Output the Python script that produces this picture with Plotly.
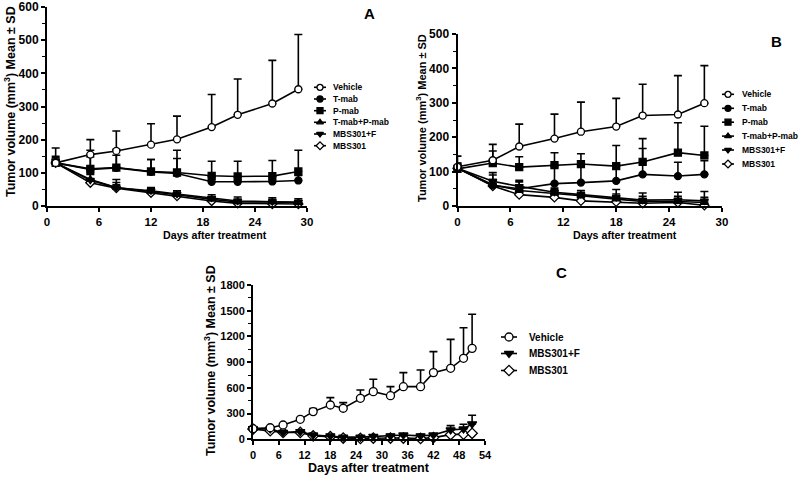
import plotly.graph_objects as go

# ---------------- data ----------------
A_days = [1, 5, 8, 12, 15, 19, 22, 26, 29]
A_vehicle = [130, 155, 166, 185, 201, 238, 275, 309, 352]
A_vehicle_sd = [15, 45, 60, 63, 70, 98, 108, 130, 165]
A_tmab = [130, 110, 115, 103, 98, 73, 73, 74, 77]
A_tmab_sd = [20, 38, 38, 37, 45, 15, 15, 15, 15]
A_pmab = [130, 112, 116, 104, 101, 91, 89, 90, 104]
A_pmab_sd = [45, 56, 55, 36, 67, 44, 46, 47, 64]
A_tp = [130, 80, 56, 44, 34, 20, 12, 12, 10]
A_tp_sd = [10, 15, 15, 10, 8, 8, 8, 8, 6]
A_mf = [130, 78, 55, 46, 36, 24, 15, 13, 12]
A_mf_sd = [10, 20, 25, 10, 10, 10, 12, 12, 10]
A_m = [130, 70, 54, 40, 30, 15, 8, 6, 6]
A_m_sd = [5, 10, 10, 8, 8, 6, 5, 5, 4]

B_days = [0, 4, 7, 11, 14, 18, 21, 25, 28]
B_vehicle = [114, 133, 173, 196, 216, 231, 263, 266, 299]
B_vehicle_sd = [10, 46, 65, 71, 86, 82, 91, 113, 109]
B_tmab = [110, 60, 50, 65, 68, 73, 92, 87, 92]
B_tmab_sd = [10, 30, 20, 50, 50, 45, 75, 40, 40]
B_pmab = [108, 125, 113, 119, 122, 116, 128, 155, 147]
B_pmab_sd = [37, 35, 30, 36, 30, 60, 68, 87, 85]
B_tp = [110, 62, 45, 37, 30, 20, 13, 13, 10]
B_tp_sd = [10, 15, 12, 10, 10, 15, 15, 15, 15]
B_mf = [110, 72, 57, 40, 33, 25, 17, 18, 15]
B_mf_sd = [15, 25, 18, 12, 12, 23, 21, 22, 27]
B_m = [110, 58, 33, 25, 15, 12, 8, 10, 2]
B_m_sd = [5, 8, 8, 6, 5, 6, 6, 6, 4]

C_days = [0, 4, 7, 11, 14, 18, 21, 25, 28, 32, 35, 39, 42, 46, 49, 51]
C_vehicle = [124, 135, 167, 233, 323, 400, 362, 478, 556, 509, 614, 614, 778, 828, 945, 1061]
C_vehicle_sd = [6, 15, 13, 17, 37, 86, 66, 97, 144, 105, 164, 195, 245, 338, 357, 397]
C_mf = [125, 120, 80, 90, 50, 40, 25, 25, 35, 40, 50, 40, 50, 110, 120, 180]
C_mf_sd = [10, 15, 10, 10, 10, 10, 10, 10, 15, 15, 15, 15, 15, 50, 55, 100]
C_m = [120, 100, 80, 80, 40, 30, 15, 10, 15, 15, 15, 10, 20, 55, 60, 70]
C_m_sd = [5, 5, 5, 5, 5, 5, 5, 5, 5, 5, 5, 5, 5, 10, 10, 10]

A_x_ticks = [0, 6, 12, 18, 24, 30]
A_y_ticks = [0, 100, 200, 300, 400, 500, 600]
B_y_ticks = [0, 100, 200, 300, 400, 500]
C_x_ticks = [0, 6, 12, 18, 24, 30, 36, 42, 48, 54]
C_y_ticks = [0, 300, 600, 900, 1200, 1500, 1800]

panelA = [("Vehicle", A_vehicle, A_vehicle_sd), ("T-mab", A_tmab, A_tmab_sd),
          ("P-mab", A_pmab, A_pmab_sd), ("T-mab+P-mab", A_tp, A_tp_sd),
          ("MBS301+F", A_mf, A_mf_sd), ("MBS301", A_m, A_m_sd)]
panelB = [("Vehicle", B_vehicle, B_vehicle_sd), ("T-mab", B_tmab, B_tmab_sd),
          ("P-mab", B_pmab, B_pmab_sd), ("T-mab+P-mab", B_tp, B_tp_sd),
          ("MBS301+F", B_mf, B_mf_sd), ("MBS301", B_m, B_m_sd)]
panelC = [("Vehicle", C_vehicle, C_vehicle_sd), ("MBS301+F", C_mf, C_mf_sd),
          ("MBS301", C_m, C_m_sd)]

# ---------------- style ----------------
FONT = "Liberation Sans, Arial, sans-serif"
W, H = 800, 477
STYLE = {
    "Vehicle": ("circle", "white"),
    "T-mab": ("circle", "black"),
    "P-mab": ("square", "black"),
    "T-mab+P-mab": ("triangle-up", "black"),
    "MBS301+F": ("triangle-down", "black"),
    "MBS301": ("diamond", "white"),
}


def px(x):
    return x / W


def py(y):
    return 1 - y / H


fig = go.Figure()


def add_panel(series, days, xa, ya, msize):
    for name, vals, sd in reversed(series):
        sym, fill = STYLE[name]
        fig.add_trace(go.Scatter(
            x=days, y=vals, mode="lines+markers", name=name, showlegend=False,
            xaxis=xa, yaxis=ya, cliponaxis=False,
            line=dict(color="black", width=1.6),
            marker=dict(symbol=sym, size=msize, color=fill,
                        line=dict(color="black", width=1.3)),
            error_y=dict(type="data", symmetric=False, array=sd,
                         arrayminus=[0] * len(sd), color="black",
                         thickness=1.6, width=4),
        ))


add_panel(panelA, A_days, "x", "y", 7)
add_panel(panelB, B_days, "x2", "y2", 7)
add_panel(panelC, C_days, "x3", "y3", 8)

# ---------------- custom legends on an overlay pixel axis ----------------
annotations = []


def add_legend(series, rows, x0, xm, x1, xt, msize, fsize):
    for (name, _, _), r in zip(series, rows):
        sym, fill = STYLE[name]
        fig.add_trace(go.Scatter(x=[x0, x1], y=[r, r], mode="lines",
                                 xaxis="x4", yaxis="y4", showlegend=False,
                                 line=dict(color="black", width=1.6), hoverinfo="skip"))
        fig.add_trace(go.Scatter(x=[xm], y=[r], mode="markers",
                                 xaxis="x4", yaxis="y4", showlegend=False,
                                 marker=dict(symbol=sym, size=msize, color=fill,
                                             line=dict(color="black", width=1.3)),
                                 hoverinfo="skip"))
        annotations.append(dict(text=name, x=px(xt), y=py(r), xref="paper", yref="paper",
                                xanchor="left", yanchor="middle", showarrow=False,
                                font=dict(family=FONT, size=fsize, color="black", weight="bold")))


add_legend(panelA, [87.3, 99, 110.7, 122.3, 134, 145.7], 314, 320, 326, 331, 6, 8.5)
add_legend(panelB, [94.3, 108.3, 122.2, 136.1, 150, 164], 722, 728, 734, 740, 6, 8.5)
add_legend(panelC, [337, 353.5, 370.5], 501, 509, 517, 527, 8, 10)


def axis_common(tickvals, rng, domain, anchor, fsize, minor=None):
    d = dict(range=rng, domain=domain, anchor=anchor, tickvals=tickvals,
             showgrid=False, zeroline=False, showline=True, linecolor="black",
             linewidth=2, ticks="outside", ticklen=4, tickwidth=1.8, tickcolor="black",
             tickfont=dict(family=FONT, size=fsize, color="black", weight="bold"),
             automargin=False, fixedrange=True)
    if minor is not None:
        d["minor"] = dict(dtick=minor, ticks="outside", ticklen=3, tickwidth=1.2,
                          tickcolor="black", showgrid=False)
    return d


layout = dict(
    width=W, height=H, paper_bgcolor="white", plot_bgcolor="rgba(0,0,0,0)",
    margin=dict(l=0, r=0, t=0, b=0), showlegend=False,
    font=dict(family=FONT, color="black"),
    xaxis=axis_common(A_x_ticks, [0, 30], [px(47), px(307)], "y", 11.5),
    yaxis=axis_common(A_y_ticks, [0, 600], [py(206), py(7)], "x", 12, minor=50),
    xaxis2=axis_common(A_x_ticks, [0, 30], [px(457.5), px(722)], "y2", 11.5),
    yaxis2=axis_common(B_y_ticks, [0, 500], [py(206), py(34)], "x2", 12, minor=50),
    xaxis3=axis_common(C_x_ticks, [0, 54], [px(253), px(485)], "y3", 11),
    yaxis3=axis_common(C_y_ticks, [0, 1800], [py(439.3), py(285)], "x3", 11, minor=150),
    xaxis4=dict(range=[0, W], domain=[0, 1], anchor="y4", visible=False, fixedrange=True),
    yaxis4=dict(range=[H, 0], domain=[0, 1], anchor="x4", visible=False, fixedrange=True),
)


def text_ann(text, x, y, size, angle=0):
    annotations.append(dict(text=text, x=px(x), y=py(y), xref="paper", yref="paper",
                            xanchor="center", yanchor="middle", showarrow=False,
                            textangle=angle,
                            font=dict(family=FONT, size=size, color="black", weight="bold")))


ytitle = "Tumor volume (mm<sup>3</sup>) Mean ± SD"
text_ann(ytitle, 10, 102, 12.5, -90)
text_ann(ytitle, 421, 118, 11, -90)
text_ann(ytitle, 210, 361, 12.5, -90)
text_ann("Days after treatment", 215, 235, 10.7)
text_ann("Days after treatment", 625, 235, 10.7)
text_ann("Days after treatment", 369, 468, 12.5)
text_ann("A", 369, 13, 15)
text_ann("B", 776, 42, 15)
text_ann("C", 561, 272, 15)

layout["annotations"] = annotations
fig.update_layout(**layout)
fig.write_html("out.html", config={"displayModeBar": False},
               post_script="document.body.style.margin='0';document.body.style.padding='0';")
